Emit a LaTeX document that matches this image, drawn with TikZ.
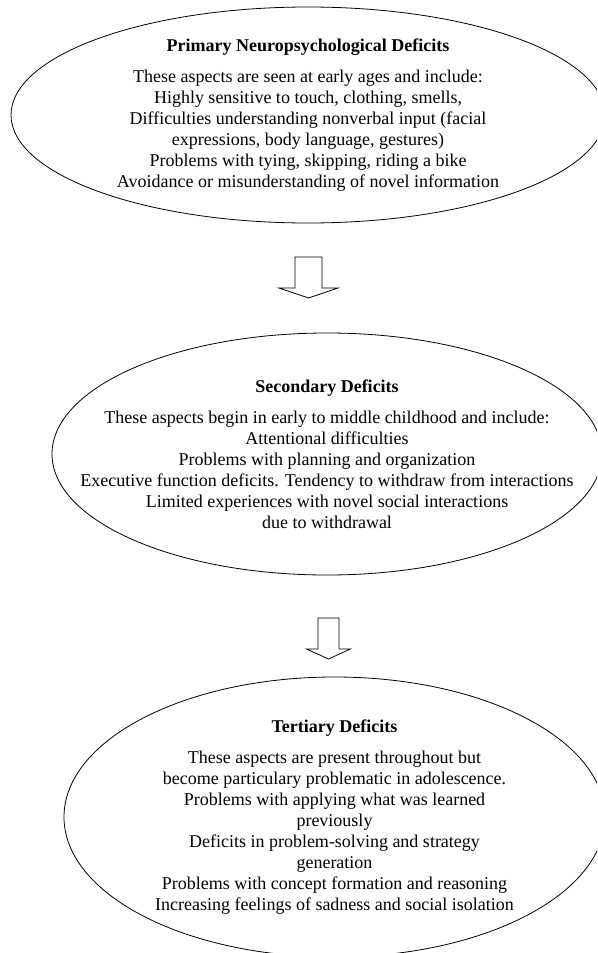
\documentclass[tikz,border=0pt]{standalone}
\usepackage{fontspec}
\setmainfont{Liberation Serif}
\usetikzlibrary{shapes,positioning}

\begin{document}
\begin{tikzpicture}[x=1pt,y=-1pt,
	oval/.style={ellipse,draw,line width=0.8pt,inner sep=0pt},
	txt/.style={align=center,inner sep=0pt,font=\fontsize{18}{21}\selectfont}]
	\clip (0,0) rectangle (597,953);
	\useasboundingbox (0,0) rectangle (597,953);

	\node[oval,minimum width=594pt,minimum height=216pt] at (308,115) (prim) {};
	\node[txt] at (prim.center) (primtxt) {\textbf{Primary Neuropsychological Deficits}\\[9.5pt]
		These aspects are seen at early ages and include:\\
		Highly sensitive to touch, clothing, smells,\\
		Difficulties understanding nonverbal input (facial\\
		expressions, body language, gestures)\\
		Problems with tying, skipping, riding a bike\\
		Avoidance or misunderstanding of novel information};

	\node[oval,minimum width=550pt,minimum height=242pt] at (327,454) (sec) {};
	\node[txt] at (sec.center) (sectxt) {\textbf{Secondary Deficits}\\[9.5pt]
		These aspects begin in early to middle childhood and include:\\
		Attentional difficulties\\
		Problems with planning and organization\\
		Executive function deficits. Tendency to withdraw from interactions\\
		Limited experiences with novel social interactions\\
		due to withdrawal};

	\node[oval,minimum width=541pt,minimum height=280pt] at (334.5,817) (ter) {};
	\node[txt] at (ter.center) (tertxt) {\textbf{Tertiary Deficits}\\[9.5pt]
		These aspects are present throughout but\\
		become particulary problematic in adolescence.\\
		Problems with applying what was learned\\
		previously\\
		Deficits in problem-solving and strategy\\
		generation\\
		Problems with concept formation and reasoning\\
		Increasing feelings of sadness and social isolation};

	% hollow block arrows
	\foreach \n/\x/\y/\s/\h in {a/308.5/257/13.5/29.5, b/328.5/618/10.5/22}{
		\coordinate (arr\n) at (\x,\y);
		\draw[line width=0.8pt] (arr\n) ++(-\s,0) -- ++(0,31) -- ++({\s-\h},0) -- ++(\h,10) -- ++(\h,-10) -- ++({\s-\h},0) -- ++(0,-31) -- cycle;
	}
\end{tikzpicture}
\end{document}
